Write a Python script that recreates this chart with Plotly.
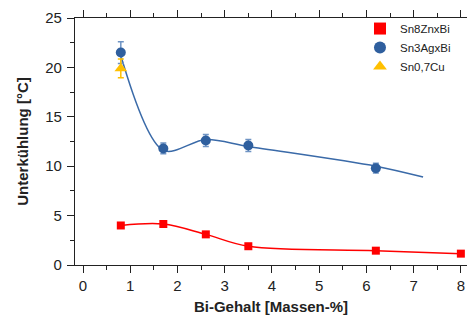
import plotly.graph_objects as go

bi = [0.8, 1.7, 2.6, 3.5, 6.2, 8.0]
zn_y = [4.0, 4.15, 3.1, 1.9, 1.45, 1.15]

ag_x = [0.8, 1.7, 2.6, 3.5, 6.2]
ag_y = [21.5, 11.8, 12.6, 12.1, 9.8]
ag_err = [1.1, 0.55, 0.6, 0.6, 0.5]

ag_fit_x = [0.8, 1.7, 2.6, 3.5, 6.2, 7.2]
ag_fit_y = [21.2, 11.6, 12.7, 12.0, 10.0, 8.9]

cu_x = [0.8]
cu_y = [19.9]
cu_err = [0.95]

x_ticks = [0, 1, 2, 3, 4, 5, 6, 7, 8]
x_range = [-0.17, 8.13]

RED = "#ff0000"
BLUE = "#2f5f9e"
YEL = "#ffc000"
FONT = "Liberation Sans, Arial, sans-serif"

fig = go.Figure()
fig.add_trace(go.Scatter(x=bi, y=zn_y, mode="lines", line=dict(color=RED, width=1.5, shape="spline", smoothing=1.0),
                         showlegend=False, hoverinfo="skip"))
fig.add_trace(go.Scatter(x=ag_fit_x, y=ag_fit_y, mode="lines", line=dict(color="#3a6aa8", width=1.5, shape="spline", smoothing=0.9),
                         showlegend=False, hoverinfo="skip"))
fig.add_trace(go.Scatter(x=bi, y=zn_y, mode="markers", name="Sn8ZnxBi",
                         marker=dict(symbol="square", size=8, color=RED), cliponaxis=False))
fig.add_trace(go.Scatter(x=ag_x, y=ag_y, mode="markers", name="Sn3AgxBi",
                         marker=dict(symbol="circle", size=10, color=BLUE),
                         error_y=dict(type="data", array=ag_err, color="#6f94c4", thickness=1.5, width=3)))
fig.add_trace(go.Scatter(x=cu_x, y=cu_y, mode="markers", name="Sn0,7Cu",
                         marker=dict(symbol="triangle-up", size=11, color=YEL),
                         error_y=dict(type="data", array=cu_err, color=YEL, thickness=1.5, width=3)))
# invisible trace to activate the top axis
fig.add_trace(go.Scatter(x=[x_ticks[0]], y=[0], xaxis="x2", mode="markers", marker=dict(opacity=0),
                         showlegend=False, hoverinfo="skip"))

fig.update_layout(
    width=467, height=320,
    margin=dict(l=75, r=0, t=18, b=55),
    plot_bgcolor="white", paper_bgcolor="white",
    font=dict(family=FONT, size=15, color="#222"),
    legend=dict(x=0.727, y=1.016, xanchor="left", yanchor="top", bgcolor="rgba(0,0,0,0)",
                font=dict(family=FONT, size=11.5, color="#222"),
                itemsizing="constant", tracegroupgap=0, itemwidth=30),
    xaxis=dict(range=x_range, tickvals=x_ticks, automargin=False,
               showgrid=False, zeroline=False, showline=True, linecolor="#222", linewidth=1.2,
               ticks="outside", ticklen=7, tickcolor="#222", ticklabelstandoff=0,
               minor=dict(dtick=0.5, tick0=0, ticks="outside", ticklen=4, tickcolor="#222"),
               title=dict(text="<b>Bi-Gehalt [Massen-%]</b>", font=dict(size=15), standoff=8)),
    xaxis2=dict(range=x_range, tickvals=x_ticks, overlaying="x", side="top", showticklabels=False,
                automargin=False,
                showgrid=False, zeroline=False, showline=True, linecolor="#222", linewidth=1.2,
                ticks="outside", ticklen=7, tickcolor="#222",
                minor=dict(dtick=0.5, tick0=0, ticks="outside", ticklen=4, tickcolor="#222")),
    yaxis=dict(range=[0, 25], dtick=5, automargin=False, showgrid=False, zeroline=False, showline=True,
               linecolor="#222", linewidth=1.2, ticks="outside", ticklen=7, tickcolor="#222",
               ticklabelstandoff=2,
               minor=dict(dtick=2.5, tick0=0, ticks="outside", ticklen=4, tickcolor="#222"),
               title=dict(text="<b>Unterkühlung [°C]</b>", font=dict(size=15), standoff=12)),
)
fig.write_html("out.html", config={"displayModeBar": False},
               post_script="document.body.style.margin='0';document.body.style.overflow='hidden';")
